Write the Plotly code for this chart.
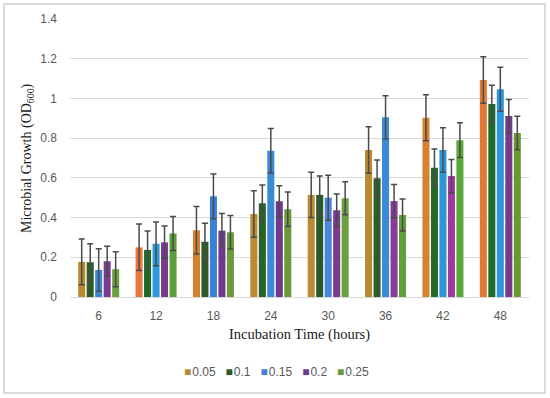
import plotly.graph_objects as go

categories = ["6", "12", "18", "24", "30", "36", "42", "48"]
series_names = ["0.05", "0.1", "0.15", "0.2", "0.25"]

values = {
    "0.05": [0.177, 0.250, 0.336, 0.418, 0.514, 0.740, 0.903, 1.093],
    "0.1":  [0.175, 0.237, 0.278, 0.472, 0.514, 0.598, 0.651, 0.972],
    "0.15": [0.136, 0.268, 0.507, 0.737, 0.500, 0.905, 0.740, 1.046],
    "0.2":  [0.180, 0.275, 0.334, 0.482, 0.437, 0.483, 0.609, 0.911],
    "0.25": [0.140, 0.320, 0.326, 0.442, 0.497, 0.413, 0.790, 0.826],
}
errors = {
    "0.05": [0.115, 0.117, 0.120, 0.117, 0.114, 0.117, 0.116, 0.117],
    "0.1":  [0.093, 0.095, 0.094, 0.092, 0.095, 0.092, 0.094, 0.094],
    "0.15": [0.107, 0.110, 0.113, 0.112, 0.113, 0.109, 0.112, 0.111],
    "0.2":  [0.075, 0.082, 0.086, 0.078, 0.082, 0.084, 0.084, 0.084],
    "0.25": [0.088, 0.086, 0.084, 0.087, 0.083, 0.080, 0.088, 0.084],
}

legend_colors = {
    "0.05": "#b08a35",
    "0.1": "#2e5a28",
    "0.15": "#4a7fd6",
    "0.2": "#6e3a8e",
    "0.25": "#6a9a3a",
}
bar_colors = {
    "0.05": ["#b8892f", "#e8783a", "#d4802f", "#bb8a35", "#bb8a35", "#b8892f", "#d68232", "#e07a32"],
    "0.1": ["#2e5a28", "#1f6a2a", "#2e5a28", "#2a6228", "#285a28", "#2a5e28", "#256a2a", "#226a2a"],
    "0.15": ["#3a86d0", "#2a9ad8", "#3a80d8", "#3a8ad8", "#4a86d8", "#3a8ad8", "#2a96d8", "#2a96dc"],
    "0.2": ["#7a3a92", "#7a3a92", "#6e3a8e", "#6e3a8e", "#7a3a92", "#8a3a98", "#a0389e", "#743a8e"],
    "0.25": ["#6aa040", "#5aa03a", "#6a9a3a", "#6a9a3a", "#6aa040", "#5fa03a", "#5aa83a", "#6a9a30"],
}

fig = go.Figure()
for name in series_names:
    fig.add_trace(go.Bar(
        x=categories,
        y=values[name],
        name=name,
        marker=dict(color=bar_colors[name], line=dict(width=0)),
        error_y=dict(type="data", array=errors[name], visible=True,
                     color="#4a4a4a", thickness=1.5, width=3),
        showlegend=False,
    ))

# compact legend, built from the series names and colours
legend_text = "&nbsp;&nbsp;&nbsp;".join(
    f"<span style='color:{legend_colors[n]}'>■</span>&#8202;{n}" for n in series_names
)

tick_font = dict(family="Liberation Sans, Arial, sans-serif", size=12, color="#595959")

fig.update_layout(
    width=550, height=398,
    margin=dict(l=70, r=21, t=19, b=101, autoexpand=False),
    paper_bgcolor="white",
    plot_bgcolor="white",
    barmode="group",
    bargap=0.26,
    bargroupgap=0.17,
    showlegend=False,
    xaxis=dict(
        type="category",
        categoryorder="array",
        categoryarray=categories,
        tickfont=tick_font,
        showgrid=False,
        showline=True,
        linecolor="#d9d9d9",
        linewidth=1,
        ticks="",
        ticklabelstandoff=8,
    ),
    yaxis=dict(
        range=[0, 1.4],
        tickvals=[0, 0.2, 0.4, 0.6, 0.8, 1.0, 1.2, 1.4],
        ticktext=["0", "0.2", "0.4", "0.6", "0.8", "1", "1.2", "1.4"],
        tickfont=tick_font,
        showgrid=True,
        gridcolor="#d9d9d9",
        gridwidth=1,
        zeroline=False,
        showline=False,
        ticks="",
        ticklabelstandoff=12,
    ),
    annotations=[
        dict(text=legend_text, xref="paper", yref="paper",
             x=(276 - 70) / 459, y=(297 - 372) / 278, xanchor="center", yanchor="middle",
             showarrow=False,
             font=dict(family="Liberation Sans, Arial, sans-serif", size=12, color="#595959")),
        dict(text="Incubation Time (hours)", xref="paper", yref="paper",
             x=0.5, y=(297 - 334) / 278, xanchor="center", yanchor="middle",
             showarrow=False,
             font=dict(family="Liberation Serif, Times New Roman, serif", size=14.5, color="#1a1a1a")),
        dict(text="Microbial Growth (OD<sub>600</sub>)", xref="paper", yref="paper",
             x=(27 - 70) / 459, y=(297 - 158) / 278, xanchor="center", yanchor="middle",
             textangle=-90, showarrow=False,
             font=dict(family="Liberation Serif, Times New Roman, serif", size=14, color="#1a1a1a")),
    ],
    shapes=[
        dict(type="rect", xref="paper", yref="paper",
             x0=(4 - 70) / 459, x1=(545 - 70) / 459,
             y0=(297 - 393) / 278, y1=(297 - 4) / 278,
             line=dict(color="#d0d0d0", width=1.5), fillcolor="rgba(0,0,0,0)", layer="below"),
    ],
)

fig.write_html("out.html", config={"displayModeBar": False},
               post_script="document.body.style.margin='0';")
